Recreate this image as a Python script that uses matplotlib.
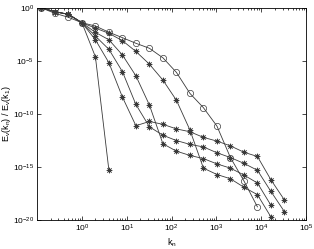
import numpy as np
import matplotlib.pyplot as plt
from matplotlib.ticker import LogLocator, NullFormatter

plt.rcParams['font.family'] = ['Liberation Sans', 'DejaVu Sans']

# shell index n, k_n = 2^n
# log10 of E_v(k_n)/E_v(k_1)
circ_n = list(range(-3, 14))
circ_log = [0, -0.5, -0.88, -1.39, -1.7, -2.29, -2.8, -3.33, -3.8, -4.7,
            -6.07, -8.05, -9.4, -11.13, -14.1, -16.3, -18.75]

a_n = list(range(-3, 3))
a_log = [0, -0.35, -0.6, -1.39, -4.6, -15.3]

p1_n = list(range(-3, 16))
p1_log = [0, -0.35, -0.6, -1.39, -3.0, -5.16, -8.4, -11.1, -10.7, -10.97,
          -11.4, -11.67, -12.2, -12.55, -13.0, -13.6, -14.0, -16.2, -18.1]

p2_n = list(range(-3, 16))
p2_log = [0, -0.35, -0.6, -1.39, -2.65, -3.9, -6.0, -9.1, -11.2, -12.0,
          -12.5, -12.86, -13.1, -13.65, -14.1, -14.65, -15.3, -17.3, -19.2]

p3_n = list(range(-3, 15))
p3_log = [0, -0.35, -0.6, -1.39, -2.3, -3.0, -4.43, -6.4, -9.15, -12.8,
          -13.5, -13.9, -14.2, -14.7, -15.1, -15.75, -16.5, -18.6]

p4_n = list(range(-3, 15))
p4_log = [0, -0.35, -0.6, -1.39, -1.9, -2.39, -3.08, -4.1, -5.3, -6.8,
          -8.7, -11.5, -15.1, -15.7, -16.1, -16.9, -17.6, -19.7]

fig = plt.figure(figsize=(3.14, 2.49), dpi=100)
ax = fig.add_axes([0.118, 0.116, 0.857, 0.852])

star = (8, 2, 0)
lc = '#3a3a3a'
for nn, lg in [(a_n, a_log), (p1_n, p1_log), (p2_n, p2_log),
               (p3_n, p3_log), (p4_n, p4_log)]:
    ax.plot(2.0 ** np.array(nn), 10.0 ** np.array(lg), color=lc, lw=0.6,
            marker=star, ms=4, mew=0.5)
ax.plot(2.0 ** np.array(circ_n), 10.0 ** np.array(circ_log), color=lc, lw=0.6,
        marker='o', ms=4.5, mfc='none', mew=0.5)

ax.set_xscale('log')
ax.set_yscale('log')
ax.set_xlim(0.1, 1e5)
ax.set_ylim(1e-20, 1e0)
ax.set_xticks([1e0, 1e1, 1e2, 1e3, 1e4, 1e5])
ax.xaxis.set_minor_locator(LogLocator(base=10, subs=np.arange(2, 10)))
ax.xaxis.set_minor_formatter(NullFormatter())
ax.set_yticks([1e-20, 1e-15, 1e-10, 1e-5, 1e0])
ax.yaxis.set_minor_locator(plt.NullLocator())
ax.tick_params(which='both', direction='in', top=True, right=True,
               labelsize=6, width=0.5, pad=2)
ax.tick_params(which='major', length=3)
ax.tick_params(which='minor', length=1.5)
for s in ax.spines.values():
    s.set_linewidth(0.6)

ax.set_xlabel('k$_\\mathregular{n}$', fontsize=6.5)
ax.set_ylabel('E$_\\mathregular{v}$(k$_\\mathregular{n}$) / E$_\\mathregular{v}$(k$_\\mathregular{1}$)',
              fontsize=6.5)
ax.xaxis.set_label_coords(0.5, -0.075)
ax.yaxis.set_label_coords(-0.09, 0.5)

fig.savefig('out.png', dpi=100)
